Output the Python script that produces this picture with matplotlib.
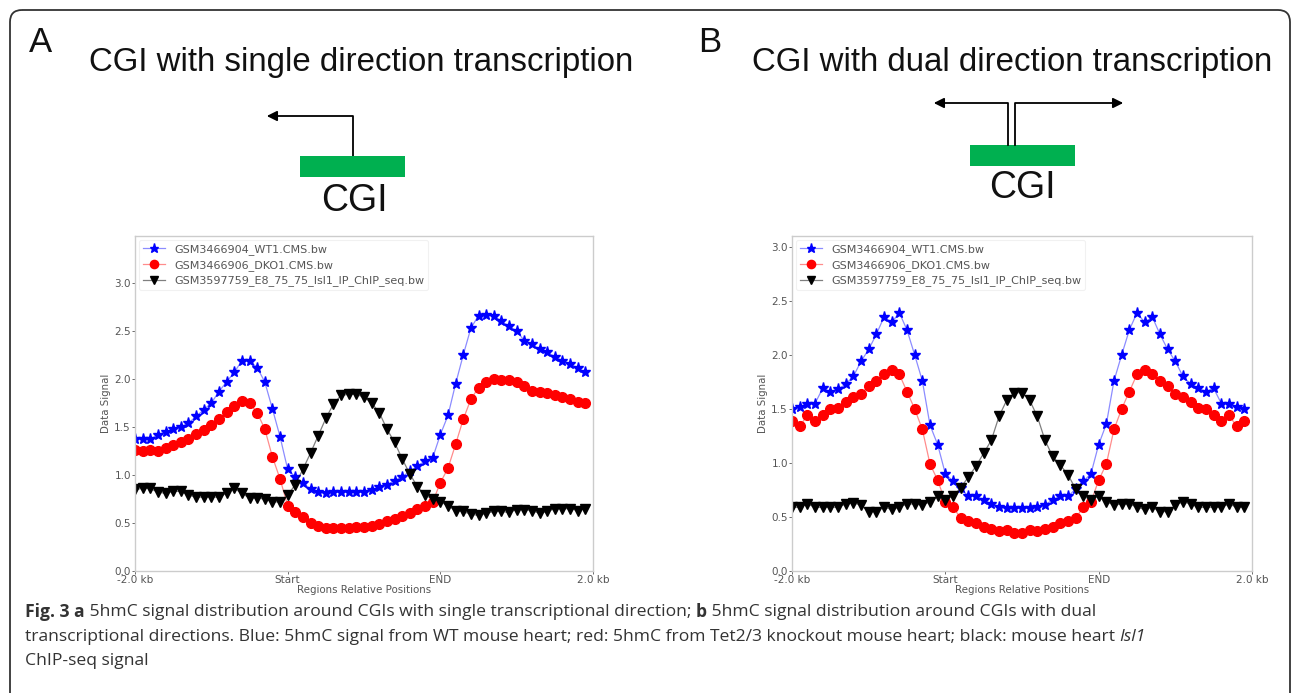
import matplotlib
matplotlib.use("Agg")
import matplotlib.pyplot as plt
from matplotlib.patches import FancyBboxPatch, Rectangle
import numpy as np

# ---------------- data ----------------
bins = list(range(60))
xtick_pos = [0, 20, 40, 60]
xtick_labels = ["-2.0 kb", "Start", "END", "2.0 kb"]
series_names = ["GSM3466904_WT1.CMS.bw", "GSM3466906_DKO1.CMS.bw",
                "GSM3597759_E8_75_75_Isl1_IP_ChIP_seq.bw"]

a_wt = [1.37, 1.37, 1.37, 1.42, 1.45, 1.48, 1.50, 1.54, 1.61, 1.68,
        1.75, 1.87, 1.97, 2.07, 2.19, 2.19, 2.12, 1.97, 1.69, 1.40,
        1.06, 0.98, 0.92, 0.85, 0.82, 0.81, 0.82, 0.82, 0.82, 0.82,
        0.82, 0.84, 0.87, 0.90, 0.94, 0.98, 1.04, 1.09, 1.15, 1.18,
        1.42, 1.62, 1.95, 2.25, 2.53, 2.66, 2.67, 2.66, 2.60, 2.55,
        2.50, 2.40, 2.36, 2.31, 2.28, 2.23, 2.19, 2.16, 2.11, 2.07]
a_dko = [1.26, 1.25, 1.26, 1.25, 1.28, 1.31, 1.34, 1.38, 1.43, 1.47,
         1.52, 1.58, 1.66, 1.72, 1.77, 1.75, 1.65, 1.48, 1.19, 0.96,
         0.68, 0.61, 0.56, 0.50, 0.47, 0.45, 0.45, 0.45, 0.45, 0.46,
         0.46, 0.47, 0.49, 0.52, 0.54, 0.57, 0.60, 0.65, 0.68, 0.72,
         0.92, 1.07, 1.32, 1.58, 1.79, 1.91, 1.97, 2.00, 1.99, 1.99,
         1.97, 1.93, 1.88, 1.87, 1.85, 1.83, 1.81, 1.79, 1.76, 1.75]
a_isl1 = [0.85, 0.86, 0.86, 0.82, 0.81, 0.83, 0.83, 0.79, 0.77, 0.77,
          0.77, 0.77, 0.81, 0.86, 0.81, 0.76, 0.76, 0.75, 0.72, 0.72,
          0.79, 0.90, 1.06, 1.23, 1.41, 1.59, 1.74, 1.83, 1.84, 1.84,
          1.81, 1.75, 1.65, 1.48, 1.34, 1.17, 1.01, 0.88, 0.79, 0.75,
          0.72, 0.68, 0.63, 0.62, 0.59, 0.58, 0.60, 0.62, 0.62, 0.61,
          0.64, 0.64, 0.63, 0.60, 0.62, 0.65, 0.65, 0.65, 0.63, 0.65]

b_wt = [1.50, 1.52, 1.55, 1.55, 1.69, 1.66, 1.68, 1.73, 1.80, 1.94,
        2.05, 2.19, 2.35, 2.30, 2.39, 2.23, 2.00, 1.76, 1.35, 1.17,
        0.90, 0.83, 0.77, 0.69, 0.69, 0.66, 0.62, 0.59, 0.58, 0.58,
        0.58, 0.58, 0.59, 0.61, 0.66, 0.69, 0.69, 0.76, 0.83, 0.90,
        1.17, 1.36, 1.76, 2.00, 2.23, 2.39, 2.30, 2.35, 2.19, 2.05,
        1.94, 1.80, 1.73, 1.69, 1.66, 1.69, 1.55, 1.55, 1.52, 1.50]
b_dko = [1.39, 1.34, 1.44, 1.39, 1.44, 1.50, 1.51, 1.56, 1.61, 1.64,
         1.71, 1.76, 1.82, 1.86, 1.82, 1.66, 1.50, 1.31, 0.99, 0.84,
         0.64, 0.59, 0.49, 0.46, 0.44, 0.41, 0.39, 0.37, 0.38, 0.35,
         0.35, 0.38, 0.37, 0.39, 0.41, 0.44, 0.46, 0.49, 0.59, 0.64,
         0.84, 0.99, 1.31, 1.50, 1.66, 1.82, 1.86, 1.82, 1.76, 1.71,
         1.64, 1.61, 1.56, 1.51, 1.50, 1.44, 1.39, 1.44, 1.34, 1.39]
b_isl1 = [0.59, 0.59, 0.62, 0.59, 0.59, 0.59, 0.59, 0.62, 0.63, 0.61,
          0.55, 0.55, 0.59, 0.57, 0.59, 0.62, 0.62, 0.61, 0.64, 0.69,
          0.66, 0.69, 0.77, 0.87, 0.97, 1.09, 1.21, 1.43, 1.58, 1.65,
          1.65, 1.58, 1.43, 1.21, 1.06, 0.98, 0.89, 0.76, 0.69, 0.66,
          0.69, 0.64, 0.61, 0.62, 0.62, 0.59, 0.57, 0.59, 0.55, 0.55,
          0.61, 0.64, 0.62, 0.59, 0.59, 0.59, 0.59, 0.62, 0.59, 0.59]

yticks = [0.0, 0.5, 1.0, 1.5, 2.0, 2.5, 3.0]

W, H = 1295, 693
fig = plt.figure(figsize=(W / 100, H / 100), dpi=100)
fig.patch.set_facecolor("white")

# overlay axis in pixel coords
ov = fig.add_axes([0, 0, 1, 1], zorder=-1)
ov.set_xlim(0, W)
ov.set_ylim(H, 0)
ov.axis("off")

# rounded frame
frame = FancyBboxPatch((10, 10), 1280, 700, boxstyle="round,pad=0,rounding_size=12",
                       fc="none", ec="#333333", lw=1.3)
ov.add_patch(frame)

tcol = "#111111"
ov.text(29, 42, "A", fontsize=25, family="Liberation Sans", va="center", ha="left", color=tcol)
ov.text(698, 42, "B", fontsize=25, family="Liberation Sans", va="center", ha="left", color=tcol)
ov.text(361, 63, "CGI with single direction transcription", fontsize=23.8,
        family="Liberation Sans", va="center", ha="center", color=tcol)
ov.text(1012, 63, "CGI with dual direction transcription", fontsize=23.8,
        family="Liberation Sans", va="center", ha="center", color=tcol)

green = "#00b050"
# diagram A
ov.add_patch(Rectangle((300, 156), 105, 21, fc=green, ec="none"))
ov.plot([353, 353, 272], [156, 116, 116], color="black", lw=1.3, solid_capstyle="butt")
ov.annotate("", xy=(264, 116), xytext=(275, 116),
            arrowprops=dict(arrowstyle="-|>,head_length=0.6,head_width=0.3", color="black", lw=1.3))
ov.text(354, 201, "CGI", fontsize=27, family="Liberation Sans", va="center", ha="center", color=tcol)

# diagram B
ov.add_patch(Rectangle((970, 145), 105, 21, fc=green, ec="none"))
ov.plot([1008, 1008, 940], [145, 103, 103], color="black", lw=1.3)
ov.plot([1015, 1015, 1117], [145, 103, 103], color="black", lw=1.3)
ov.annotate("", xy=(931, 103), xytext=(942, 103),
            arrowprops=dict(arrowstyle="-|>,head_length=0.6,head_width=0.3", color="black", lw=1.3))
ov.annotate("", xy=(1126, 103), xytext=(1115, 103),
            arrowprops=dict(arrowstyle="-|>,head_length=0.6,head_width=0.3", color="black", lw=1.3))
ov.text(1022, 188, "CGI", fontsize=27, family="Liberation Sans", va="center", ha="center", color=tcol)

# ---------------- profile plots ----------------
grey = "#555555"
spine_col = "#cccccc"
styles = [
    dict(color=(0, 0, 1, 0.45), marker="*", mfc="blue", mec="blue", ms=8),
    dict(color=(1, 0, 0, 0.45), marker="o", mfc="red", mec="red", ms=7),
    dict(color=(0, 0, 0, 0.5), marker="v", mfc="black", mec="black", ms=6.5),
]


def profile(rect, series, ytop):
    ax = fig.add_axes(rect)
    for s, name, st in zip(series, series_names, styles):
        ax.plot(bins, s, lw=0.9, label=name, **st)
    ax.set_xlim(0, 60)
    ax.set_ylim(0, ytop)
    ax.set_xticks(xtick_pos)
    ax.set_xticklabels(xtick_labels)
    ax.set_yticks(yticks)
    ax.tick_params(labelsize=7.5, colors=grey, length=2, width=0.6, pad=1)
    for sp in ax.spines.values():
        sp.set_color(spine_col)
        sp.set_linewidth(1.0)
    ax.set_xlabel("Regions Relative Positions", fontsize=7.4, color=grey, labelpad=0)
    ax.set_ylabel("Data Signal", fontsize=7.4, color=grey, labelpad=2)
    leg = ax.legend(loc="upper left", fontsize=8, frameon=True, borderaxespad=0.35,
                    handlelength=2.0, labelspacing=0.45, borderpad=0.35, markerscale=0.85)
    leg.get_frame().set_edgecolor("#eeeeee")
    leg.get_frame().set_linewidth(0.8)
    for t in leg.get_texts():
        t.set_color(grey)
    return ax


profile([135 / W, 1 - 571 / H, 458 / W, 335 / H], [a_wt, a_dko, a_isl1], 3.49)
profile([792 / W, 1 - 571 / H, 460 / W, 335 / H], [b_wt, b_dko, b_isl1], 3.1)

# ---------------- caption ----------------
renderer = fig.canvas.get_renderer()
cap_lines = [
    [("Fig. 3 a", "bold", "normal"), (" 5hmC signal distribution around CGIs with single transcriptional direction; ", "normal", "normal"),
     ("b", "bold", "normal"), (" 5hmC signal distribution around CGIs with dual", "normal", "normal")],
    [("transcriptional directions. Blue: 5hmC signal from WT mouse heart; red: 5hmC from Tet2/3 knockout mouse heart; black: mouse heart ", "normal", "normal"),
     ("Isl1", "normal", "italic")],
    [("ChIP-seq signal", "normal", "normal")],
]
cap_y = [612, 637, 661]
for line, yy in zip(cap_lines, cap_y):
    x = 25
    for txt, wgt, sty in line:
        t = ov.text(x, yy, txt, fontsize=12.6, family="Open Sans", weight=wgt, style=sty,
                    va="center", ha="left", color="#333333")
        bb = t.get_window_extent(renderer=renderer)
        x += bb.width

fig.savefig("out.png", dpi=100)
